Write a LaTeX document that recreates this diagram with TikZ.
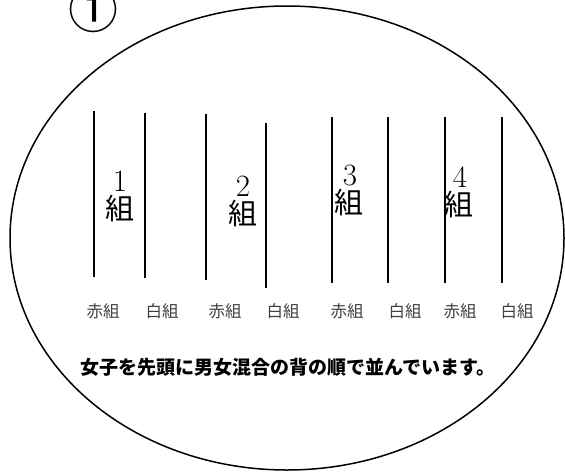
\documentclass[tikz,border=0pt]{standalone}
\usepackage{fontspec}
\newfontfamily\jp{Noto Sans CJK JP}
\begin{document}
\begin{tikzpicture}[x=1pt,y=-1pt,
        bango/.style={inner sep=0pt,font=\fontsize{31}{31}\selectfont},
        kumi/.style={inner sep=0pt,font=\jp\fontsize{29}{29}\selectfont},
        iro/.style={inner sep=0pt,text=black!75,font=\jp\fontsize{16.5}{18}\selectfont},
        retsu/.style={line width=1.5pt}]
        \useasboundingbox (0,0) rectangle (565,472);
        \node (maru) at (93,9) {\jp\fontsize{50}{50}\selectfont ①};
        \draw[line width=1.5pt] (287,238) ellipse [x radius=277pt, y radius=232pt];

        \coordinate (r1t) at (94,111);  \coordinate (r1b) at (94,277);
        \coordinate (w1t) at (145,113); \coordinate (w1b) at (145,278);
        \coordinate (r2t) at (206,114); \coordinate (r2b) at (206,280);
        \coordinate (w2t) at (266,123); \coordinate (w2b) at (266,288);
        \coordinate (r3t) at (332,117); \coordinate (r3b) at (332,283);
        \coordinate (w3t) at (388,117); \coordinate (w3b) at (388,283);
        \coordinate (r4t) at (445,117); \coordinate (r4b) at (445,283);
        \coordinate (w4t) at (502,117); \coordinate (w4b) at (502,283);

        \node[bango] (b1) at (120,181) {1};
        \node[kumi] (k1) at (120,209) {組};
        \node[bango] (b2) at (243,186) {2};
        \node[kumi] (k2) at (243,214) {組};
        \node[bango] (b3) at (350,175) {3};
        \node[kumi] (k3) at (349,203) {組};
        \node[bango] (b4) at (460,177) {4};
        \node[kumi] (k4) at (459,205) {組};

        \node[iro] (lr1) at (103,311) {赤組};
        \node[iro] (lw1) at (162,311) {白組};
        \node[iro] (lr2) at (225,311) {赤組};
        \node[iro] (lw2) at (283,311) {白組};
        \node[iro] (lr3) at (347,311) {赤組};
        \node[iro] (lw3) at (405,311) {白組};
        \node[iro] (lr4) at (460,311) {赤組};
        \node[iro] (lw4) at (517,311) {白組};

        \node[font=\jp\bfseries\fontsize{19}{21}\selectfont] (setsumei) at (288,367) {女子を先頭に男女混合の背の順で並んでいます。};

        \draw[retsu] (r1t) -- (r1b);
        \draw[retsu] (w1t) -- (w1b);
        \draw[retsu] (r2t) -- (r2b);
        \draw[retsu] (w2t) -- (w2b);
        \draw[retsu] (r3t) -- (r3b);
        \draw[retsu] (w3t) -- (w3b);
        \draw[retsu] (r4t) -- (r4b);
        \draw[retsu] (w4t) -- (w4b);

    \end{tikzpicture}
\end{document}
